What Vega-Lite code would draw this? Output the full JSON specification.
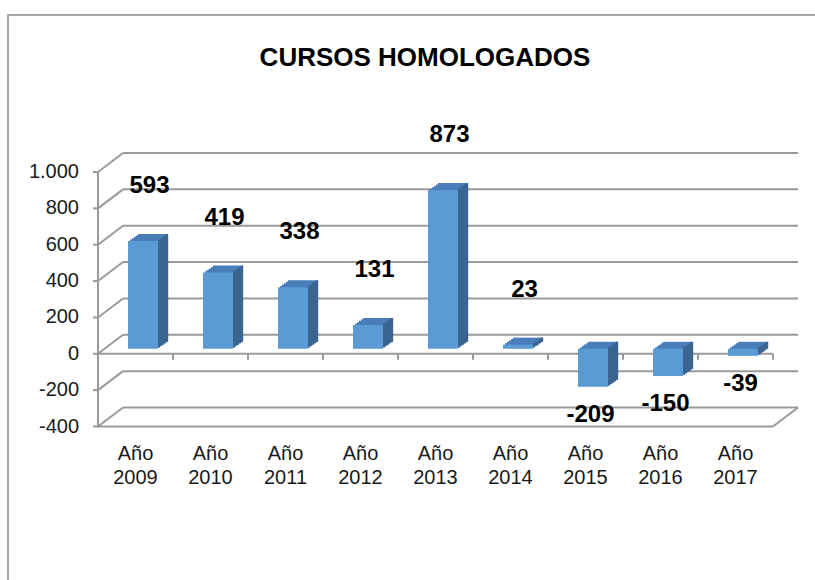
{
  "$schema": "https://vega.github.io/schema/vega-lite/v6.json",
  "width": 810,
  "height": 570,
  "autosize": {"type": "none"},
  "padding": {"left": 8, "top": 15, "right": 0, "bottom": 0},
  "background": "white",
  "config": {
    "view": {"stroke": "#8a8a8a", "strokeWidth": 1.5},
    "font": "Liberation Sans",
    "axis": {"disable": true}
  },
  "title": {
    "text": "CURSOS HOMOLOGADOS",
    "font": "Liberation Sans",
    "fontSize": 26,
    "fontWeight": "bold",
    "color": "#000000",
    "anchor": "middle",
    "baseline": "alphabetic",
    "offset": -77,
    "dx": 12
  },
  "datasets": {
    "bars": [
      {"cat": "Año 2009", "v": 593},
      {"cat": "Año 2010", "v": 419},
      {"cat": "Año 2011", "v": 338},
      {"cat": "Año 2012", "v": 131},
      {"cat": "Año 2013", "v": 873},
      {"cat": "Año 2014", "v": 23},
      {"cat": "Año 2015", "v": -209},
      {"cat": "Año 2016", "v": -150},
      {"cat": "Año 2017", "v": -39}
    ],
    "grid": [
      {"g": -400, "lbl": "-400"}, {"g": -200, "lbl": "-200"}, {"g": 0, "lbl": "0"}, {"g": 200, "lbl": "200"},
      {"g": 400, "lbl": "400"}, {"g": 600, "lbl": "600"}, {"g": 800, "lbl": "800"}, {"g": 1000, "lbl": "1.000"}
    ],
    "extent": [{"lo": -400, "hi": 1000}]
  },
  "layer": [
    {
      "data": {"name": "grid"},
      "mark": {"type": "rule", "color": "#9a9a9a", "strokeWidth": 2, "xOffset": 25, "x2Offset": 25, "yOffset": -19},
      "encoding": {
        "x": {
          "datum": "Año 2009", "type": "nominal", "bandPosition": 0,
          "scale": {"domain": ["Año 2009", "Año 2010", "Año 2011", "Año 2012", "Año 2013", "Año 2014", "Año 2015", "Año 2016", "Año 2017"], "range": [90, 765], "paddingInner": 0, "paddingOuter": 0}
        },
        "x2": {"datum": "Año 2017", "bandPosition": 1},
        "y": {
          "field": "g", "type": "quantitative",
          "scale": {"domain": [-400, 1000], "range": [411.5, 157], "nice": false, "zero": false}
        }
      }
    },
    {
      "data": {"name": "grid"},
      "mark": {"type": "rule", "color": "#9a9a9a", "strokeWidth": 2, "x2Offset": 25, "y2Offset": -19},
      "encoding": {
        "x": {"datum": "Año 2009", "type": "nominal", "bandPosition": 0},
        "x2": {"datum": "Año 2009", "bandPosition": 0},
        "y": {"field": "g", "type": "quantitative"},
        "y2": {"field": "g"}
      }
    },
    {
      "data": {"name": "grid"},
      "transform": [{"filter": "datum.g == -400"}],
      "mark": {"type": "rule", "color": "#9a9a9a", "strokeWidth": 2, "x2Offset": 25, "y2Offset": -19},
      "encoding": {
        "x": {"datum": "Año 2017", "type": "nominal", "bandPosition": 1},
        "x2": {"datum": "Año 2017", "bandPosition": 1},
        "y": {"field": "g", "type": "quantitative"},
        "y2": {"field": "g"}
      }
    },
    {
      "data": {"name": "grid"},
      "transform": [{"filter": "datum.g == 0 || datum.g == -400"}],
      "mark": {"type": "rule", "color": "#9a9a9a", "strokeWidth": 2},
      "encoding": {
        "x": {"datum": "Año 2009", "type": "nominal", "bandPosition": 0},
        "x2": {"datum": "Año 2017", "bandPosition": 1},
        "y": {"field": "g", "type": "quantitative"}
      }
    },
    {
      "data": {"name": "extent"},
      "mark": {"type": "rule", "color": "#9a9a9a", "strokeWidth": 2},
      "encoding": {
        "x": {"datum": "Año 2009", "type": "nominal", "bandPosition": 0},
        "y": {"field": "lo", "type": "quantitative"},
        "y2": {"field": "hi"}
      }
    },
    {
      "data": {"name": "grid"},
      "mark": {"type": "rule", "color": "#9a9a9a", "strokeWidth": 2, "x2Offset": -5},
      "encoding": {
        "x": {"datum": "Año 2009", "type": "nominal", "bandPosition": 0},
        "x2": {"datum": "Año 2009", "bandPosition": 0},
        "y": {"field": "g", "type": "quantitative"}
      }
    },
    {
      "data": {"name": "bars"},
      "mark": {"type": "rule", "color": "#9a9a9a", "strokeWidth": 2, "y2Offset": 6},
      "encoding": {
        "x": {"field": "cat", "type": "nominal", "bandPosition": 1},
        "y": {"datum": 0, "type": "quantitative"},
        "y2": {"datum": 0}
      }
    },
    {
      "data": {"name": "bars"},
      "mark": {"type": "bar", "color": "#4a7eba", "width": {"band": 0.4}, "xOffset": 17.5, "yOffset": -12, "y2Offset": -12},
      "encoding": {
        "x": {"field": "cat", "type": "nominal"},
        "y": {"field": "v", "type": "quantitative"},
        "y2": {"datum": 0}
      }
    },
    {
      "data": {"name": "bars"},
      "mark": {"type": "bar", "color": "#4a7eba", "width": {"band": 0.4}, "xOffset": 15.5, "yOffset": -10.6, "y2Offset": -10.6},
      "encoding": {
        "x": {"field": "cat", "type": "nominal"},
        "y": {"field": "v", "type": "quantitative"},
        "y2": {"datum": 0}
      }
    },
    {
      "data": {"name": "bars"},
      "mark": {"type": "bar", "color": "#4a7eba", "width": {"band": 0.4}, "xOffset": 13.5, "yOffset": -9.2, "y2Offset": -9.2},
      "encoding": {
        "x": {"field": "cat", "type": "nominal"},
        "y": {"field": "v", "type": "quantitative"},
        "y2": {"datum": 0}
      }
    },
    {
      "data": {"name": "bars"},
      "mark": {"type": "bar", "color": "#4a7eba", "width": {"band": 0.4}, "xOffset": 11.5, "yOffset": -7.8, "y2Offset": -7.8},
      "encoding": {
        "x": {"field": "cat", "type": "nominal"},
        "y": {"field": "v", "type": "quantitative"},
        "y2": {"datum": 0}
      }
    },
    {
      "data": {"name": "bars"},
      "mark": {"type": "bar", "color": "#4a7eba", "width": {"band": 0.4}, "xOffset": 9.5, "yOffset": -6.4, "y2Offset": -6.4},
      "encoding": {
        "x": {"field": "cat", "type": "nominal"},
        "y": {"field": "v", "type": "quantitative"},
        "y2": {"datum": 0}
      }
    },
    {
      "data": {"name": "bars"},
      "mark": {"type": "bar", "color": "#3b6590", "width": 2.4, "xOffset": 23.5, "yOffset": -6.4, "y2Offset": -6.4},
      "encoding": {
        "x": {"field": "cat", "type": "nominal"},
        "y": {"field": "v", "type": "quantitative"},
        "y2": {"datum": 0}
      }
    },
    {
      "data": {"name": "bars"},
      "mark": {"type": "bar", "color": "#3b6590", "width": 2.4, "xOffset": 25.5, "yOffset": -7.8, "y2Offset": -7.8},
      "encoding": {
        "x": {"field": "cat", "type": "nominal"},
        "y": {"field": "v", "type": "quantitative"},
        "y2": {"datum": 0}
      }
    },
    {
      "data": {"name": "bars"},
      "mark": {"type": "bar", "color": "#3b6590", "width": 2.4, "xOffset": 27.5, "yOffset": -9.2, "y2Offset": -9.2},
      "encoding": {
        "x": {"field": "cat", "type": "nominal"},
        "y": {"field": "v", "type": "quantitative"},
        "y2": {"datum": 0}
      }
    },
    {
      "data": {"name": "bars"},
      "mark": {"type": "bar", "color": "#3b6590", "width": 2.4, "xOffset": 29.5, "yOffset": -10.6, "y2Offset": -10.6},
      "encoding": {
        "x": {"field": "cat", "type": "nominal"},
        "y": {"field": "v", "type": "quantitative"},
        "y2": {"datum": 0}
      }
    },
    {
      "data": {"name": "bars"},
      "mark": {"type": "bar", "color": "#3b6590", "width": 2.4, "xOffset": 31.5, "yOffset": -12, "y2Offset": -12},
      "encoding": {
        "x": {"field": "cat", "type": "nominal"},
        "y": {"field": "v", "type": "quantitative"},
        "y2": {"datum": 0}
      }
    },
    {
      "data": {"name": "bars"},
      "mark": {"type": "bar", "color": "#5b9bd5", "width": {"band": 0.4}, "xOffset": 7.5, "yOffset": -5, "y2Offset": -5},
      "encoding": {
        "x": {"field": "cat", "type": "nominal"},
        "y": {"field": "v", "type": "quantitative"},
        "y2": {"datum": 0}
      }
    },
    {
      "data": {"name": "bars"},
      "transform": [{"filter": "datum.v >= 0"}],
      "mark": {"type": "text", "font": "Liberation Sans", "fontSize": 24, "fontWeight": "bold", "color": "#000000", "baseline": "middle", "align": "center", "xOffset": 14, "yOffset": -60},
      "encoding": {
        "x": {"field": "cat", "type": "nominal"},
        "y": {"field": "v", "type": "quantitative"},
        "text": {"field": "v", "type": "quantitative"}
      }
    },
    {
      "data": {"name": "bars"},
      "transform": [{"filter": "datum.v < 0"}],
      "mark": {"type": "text", "font": "Liberation Sans", "fontSize": 24, "fontWeight": "bold", "color": "#000000", "baseline": "middle", "align": "center", "xOffset": 5, "yOffset": 23},
      "encoding": {
        "x": {"field": "cat", "type": "nominal"},
        "y": {"field": "v", "type": "quantitative"},
        "text": {"field": "v", "type": "nominal"}
      }
    },
    {
      "data": {"name": "grid"},
      "mark": {"type": "text", "font": "Liberation Sans", "fontSize": 20, "color": "#1a1a1a", "baseline": "middle", "align": "right", "xOffset": -19},
      "encoding": {
        "x": {"datum": "Año 2009", "type": "nominal", "bandPosition": 0},
        "y": {"field": "g", "type": "quantitative"},
        "text": {"field": "lbl", "type": "nominal"}
      }
    },
    {
      "data": {"name": "bars"},
      "mark": {"type": "text", "font": "Liberation Sans", "fontSize": 20, "color": "#1a1a1a", "baseline": "alphabetic", "align": "center", "lineBreak": " ", "lineHeight": 24, "yOffset": 33.5},
      "encoding": {
        "x": {"field": "cat", "type": "nominal"},
        "y": {"datum": -400, "type": "quantitative"},
        "text": {"field": "cat", "type": "nominal"}
      }
    }
  ]
}
